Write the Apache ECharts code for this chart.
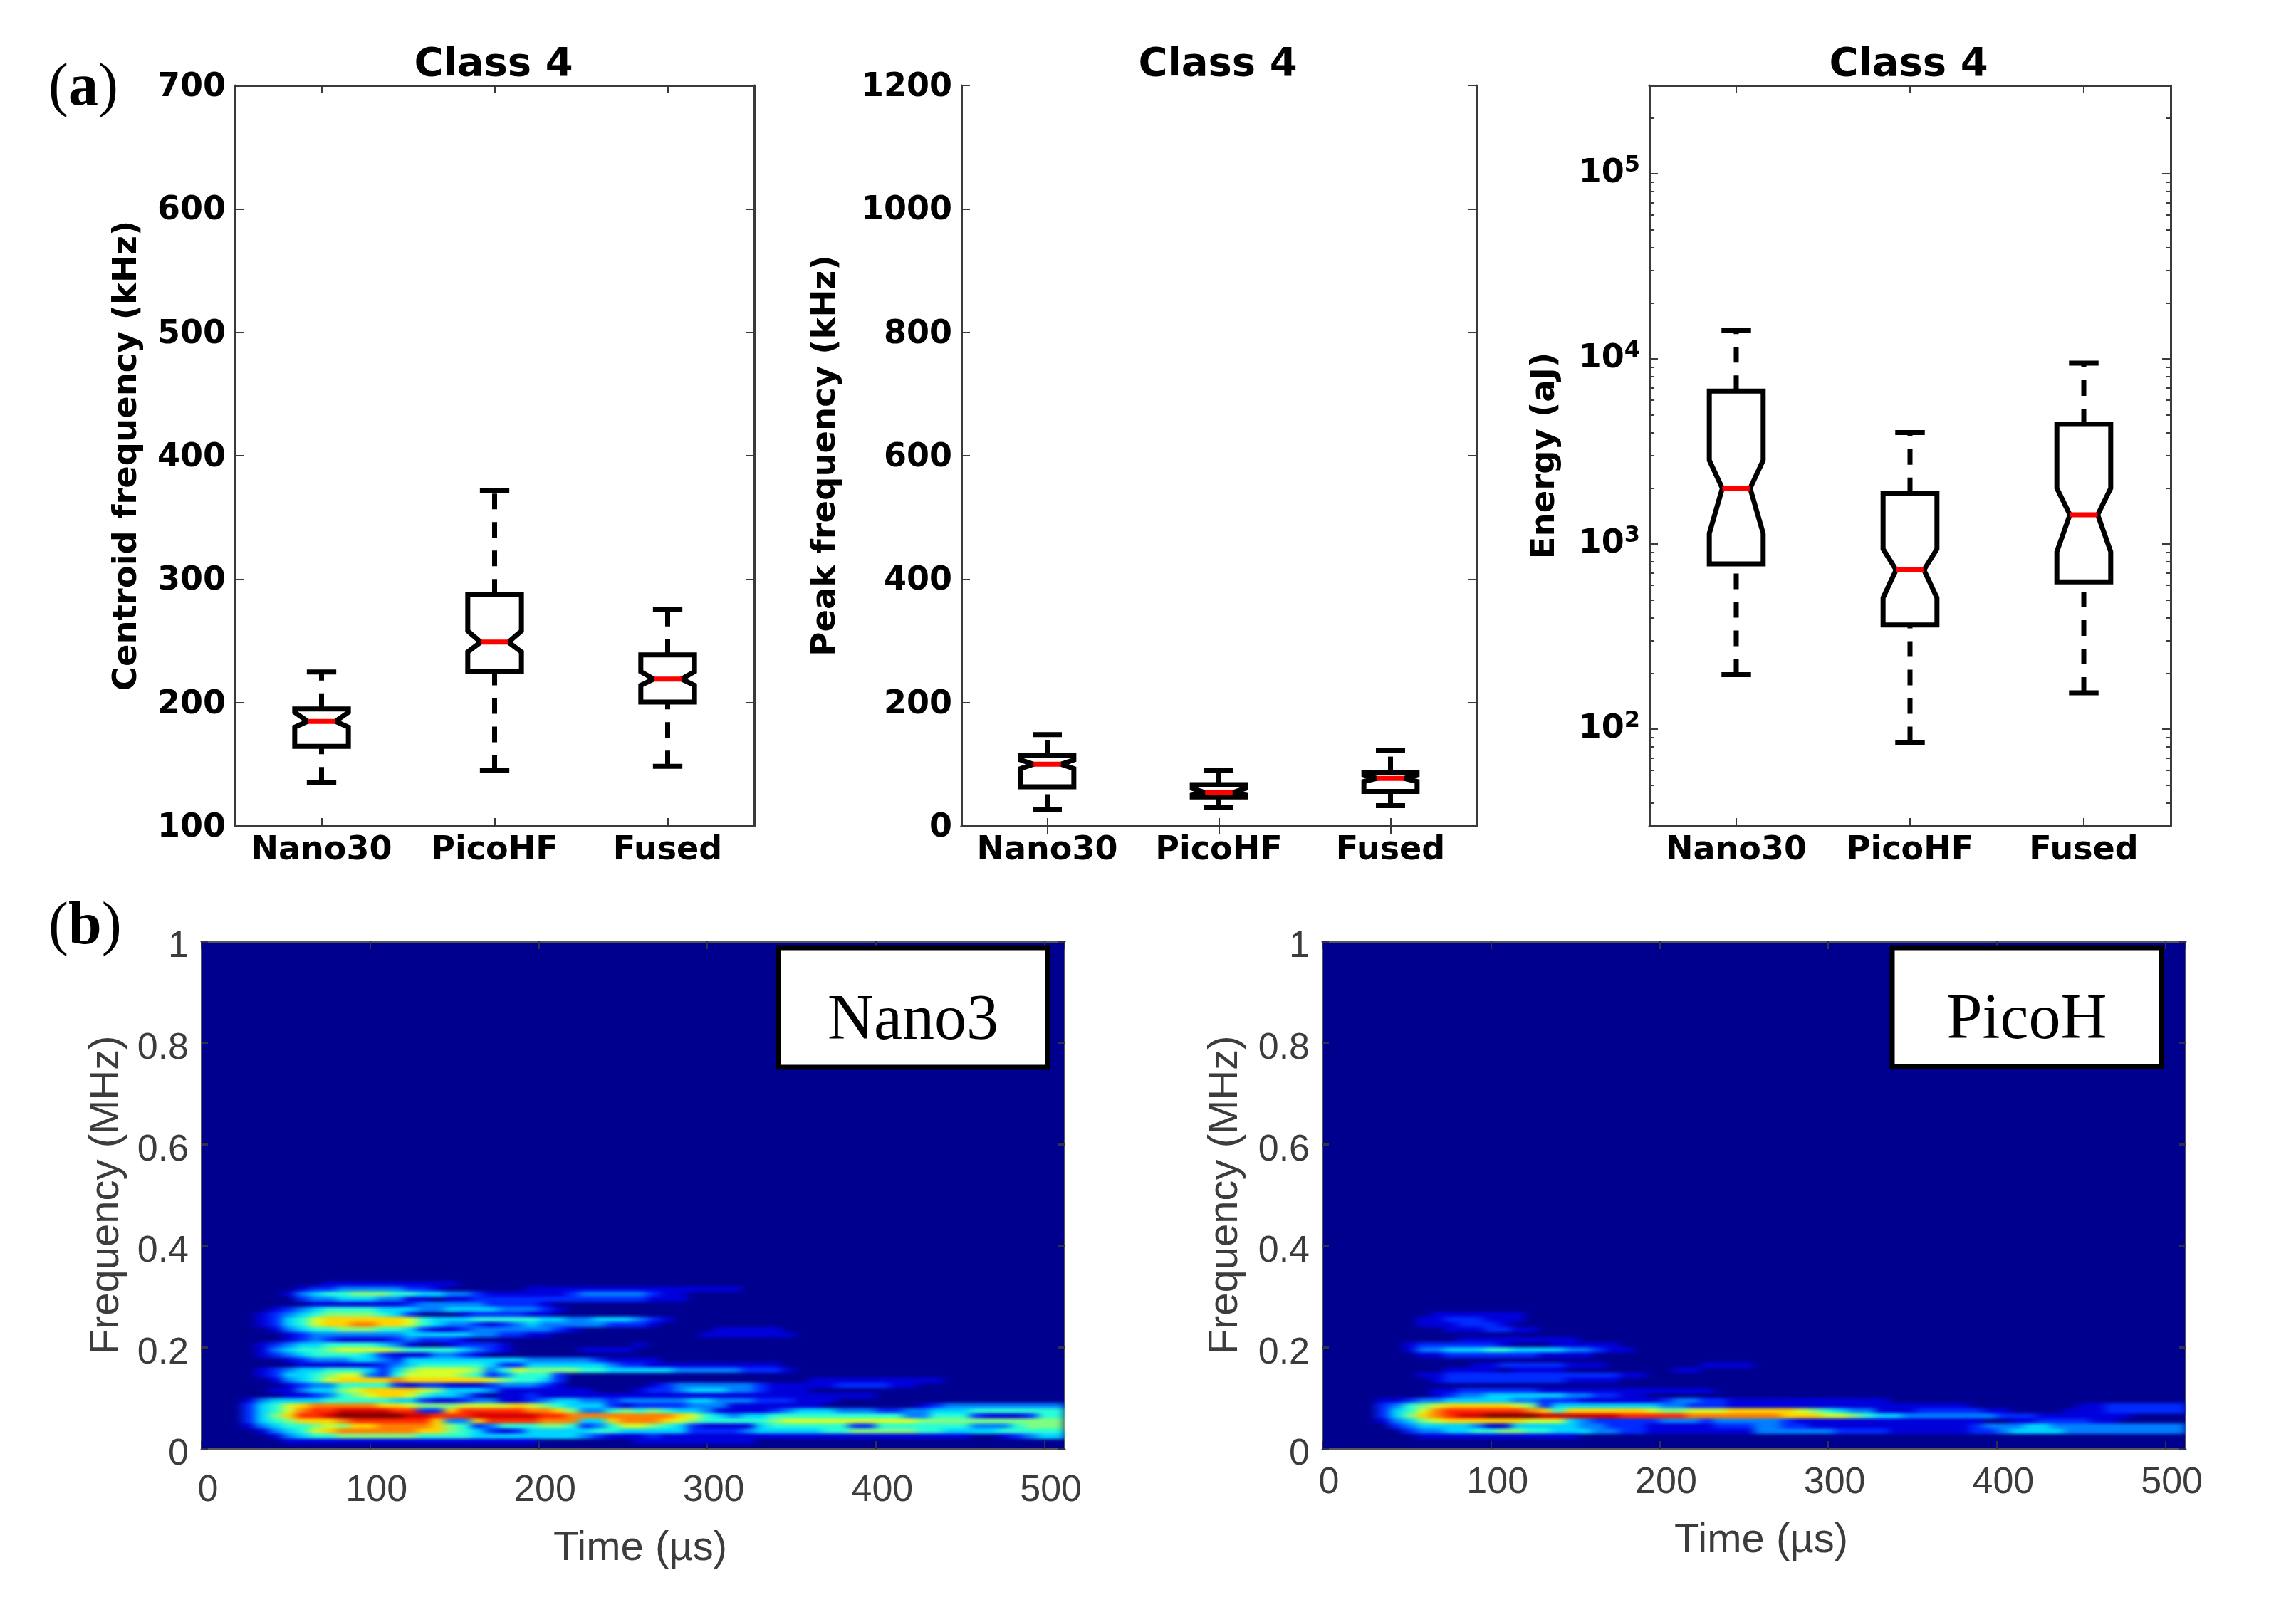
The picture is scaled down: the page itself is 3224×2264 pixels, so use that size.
<!DOCTYPE html>
<html><head><meta charset="utf-8">
<style>
html,body{margin:0;padding:0;background:#fff}
#c{width:3224px;height:2264px}
/* the spectrogram layer is softened the way the original raster is */
canvas[data-zr-dom-id="zr_1"]{filter:url(#soften);clip-path:path('M283 1322H1495V2035H283Z M1857 1322H3069V2035H1857Z')}
</style>
<script src="https://cdn.jsdelivr.net/npm/echarts@6/dist/echarts.min.js"></script>
</head><body>
<svg width="0" height="0" style="position:absolute"><filter id="soften" x="0" y="0" width="100%" height="100%" color-interpolation-filters="sRGB"><feGaussianBlur stdDeviation="7 2"/></filter></svg>
<div id="c"></div>
<script>
// ---------- Box-plot data: [whisker low, Q1, notch low, median, notch high, Q3, whisker high]
const sensors = ["Nano30", "PicoHF", "Fused"];
const centroidFrequency = [
  [135, 164.5, 180, 184.7, 192, 194.8, 224.8],
  [144.7, 225, 241, 249, 258, 287.4, 371.6],
  [148.3, 200.4, 214, 219, 225, 238.6, 275.4]
];
const peakFrequency = [
  [26, 63.5, 93, 100, 107, 114, 148],
  [30, 47, 50, 54, 61, 67, 90],
  [33, 56, 72, 77, 83, 87, 122]
];
const energy = [
  [197, 780, 1140, 2000, 2830, 6700, 14300],
  [85, 365, 513, 725, 940, 1880, 4000],
  [157, 624, 908, 1440, 2000, 4430, 9480]
];
const logMajorTicks = [100, 1000, 10000, 100000];
const logMinorTicks = [40,50,60,70,80,90,200,300,400,500,600,700,800,900,2000,3000,4000,5000,6000,7000,8000,9000,20000,30000,40000,50000,60000,70000,80000,90000,200000,300000];

// ---------- Spectrogram readings: one row per 0.01 MHz (first entry = 0.32-0.33 MHz),
// one character per 8 us, 0 (none) to c (strongest). [0-256 us, 256-512 us]; omitted tail = 0.
const nano30Spectrogram = [
 ["0000000001111111111",""],
 ["00000001223333322100000011111111","11111111"],
 ["00000013455666554433211111123333","3211"],
 ["00000002334443311011222222222222","2111"],
 ["00000000111111123333322221",""],
 ["000001234555544433444433321",""],
 ["00001234566665420001222211",""],
 ["00001245788888875444555554433444","321"],
 ["00001245788998875433212343333322","21"],
 ["0000013455666554211233333321","00000011111"],
 ["00000012333333344444332211","000001111111"],
 ["00000012321111232221",""],
 ["00001234455554310012221",""+"1"],
 ["00001345567777655554321000001111",""],
 ["000012345555421113321",""],
 ["00000012333443244444444433333211","11"],
 ["00000001111112345555542244444432","21111111111"],
 ["00001234455542467777635766665544","444333332221"],
 ["000012445677325777765235552",""],
 ["000001345788889888888765542","00000000000001111111111"],
 ["000000123355552122111233321","012333333211111222211"],
 ["00000113446788887644431111111000","1223444332111"],
 ["00000011235678875443101121111111","111111111111111111"],
 ["00013444455555442112331123443323","333344333222111"],
 ["00024578999998876667777876544421","22223331111111000000012333333333"],
 ["00024579aabbbbaa228aaaaa99863356","56544311112344433322334445555555"],
 ["0002468aabcccccbbaaabbbbbaa99999","99987543445555555555335552111255"],
 ["00024568889aaaaaa8338aaaa9994489","99876555556777777777766666666666"],
 ["00013455676889999865235556652357","76542111145555552255555553335666"],
 ["00001345789999998865421244444554","44442222344444556666655444455555"],
 ["00000134556666665555444444443211","12111111111111111111111110012344"],
 ["0000001111111111111111111","111111111"]
];
const picoHFSpectrogram = [
 ["",""], ["",""], ["",""], ["",""], ["",""], ["",""],
 ["000000001111111",""],
 ["000000011222111",""],
 ["00000001112221",""],
 ["0000000001112211",""],
 ["",""],
 ["0000000000111111111",""],
 ["0000001222222100011111",""],
 ["00000013344455444433211",""],
 ["00000001122222221111",""],
 ["",""],
 ["00000000000112222211100000001111",""],
 ["00000000011110111100000000110000",""],
 ["000000011222222222222211",""],
 ["0000000012222222221111",""],
 ["",""],
 ["00000000112222221111111111111",""],
 ["000000001233444444332211",""],
 ["00001123344444332221111112332211","1111111111"],
 ["00002356788888762444444443322211","11111111111111110000000011222222"],
 ["000024579aaaaaa98588888876677788","88876543311122222110000111222222"],
 ["000024689abbccccbbbbbbaaaaa99999","9988877654433333332221111111"],
 ["00001346788888877743222223332333","332111111111111110011222211"],
 ["00000234444311444443322211111222","33221111111111112333443333333333"],
 ["00000023344556655444332211111111","33333322221111112234444333333333"],
 ["0000000111111111111",""]
];
const TOP_ROW = 32;                 // row index of the first entry above
const freqBins = 100, timeBins = 64;

// ---------- Styles
const jet = ['#00008f','#0000ff','#0080ff','#00ffff','#80ff80','#ffff00','#ff8000','#ff0000','#800000'];
const SPINE = '#3a3a3a', BOLD = 'DejaVu Sans', SANS = 'Liberation Sans', SERIF = 'Liberation Serif';

const grids = [], xAxes = [], yAxes = [], series = [], titles = [];

function boxRender(params, api) {
  const i = api.value(0);
  const v = [1,2,3,4,5,6,7].map(k => api.value(k));
  const band = api.size([1, 0])[0];
  const half = band * 0.155, nh = band * 0.08, cap = band * 0.085;
  const p = y => api.coord([i, y]);
  const cx = p(v[3])[0], y = v.map(a => p(a)[1]);
  const sty = {stroke:'#000', lineWidth:7, fill:null, lineJoin:'miter'};
  const dash = {stroke:'#000', lineWidth:7, lineDash:[22,18], fill:null};
  const line = (x1,y1,x2,y2,s) => ({type:'line', shape:{x1,y1,x2,y2}, style:s});
  return {type:'group', children:[
    line(cx,y[0],cx,y[1],dash),
    line(cx,y[5],cx,y[6],dash),
    line(cx-cap,y[0],cx+cap,y[0],sty),
    line(cx-cap,y[6],cx+cap,y[6],sty),
    {type:'polygon', shape:{points:[
      [cx-half,y[1]],[cx+half,y[1]],[cx+half,y[2]],[cx+nh,y[3]],[cx+half,y[4]],[cx+half,y[5]],
      [cx-half,y[5]],[cx-half,y[4]],[cx-nh,y[3]],[cx-half,y[2]]]}, style:sty},
    line(cx-nh,y[3],cx+nh,y[3],{stroke:'#ff0000', lineWidth:7})
  ]};
}

function addBoxPanel(g, values, yCfg, name, nameGap, titleX) {
  const gi = grids.length;
  grids.push({left:g.l, top:g.t, width:g.w, height:g.h, show:false, containLabel:false});
  const xBase = {type:'category', data:sensors, gridIndex:gi, boundaryGap:true,
    axisLine:{show:true, lineStyle:{color:SPINE, width:3}},
    axisTick:{show:true, inside:true, alignWithLabel:true, length:11, lineStyle:{color:SPINE, width:2}}};
  const xIdx = xAxes.length;
  xAxes.push(Object.assign({}, xBase, {position:'bottom',
    axisLabel:{interval:0, margin:12, fontFamily:BOLD, fontWeight:'bold', fontSize:46, color:'#000'}}));
  xAxes.push(Object.assign({}, xBase, {position:'top', axisLabel:{show:false}}));
  const yBase = Object.assign({gridIndex:gi, splitLine:{show:false},
    axisLine:{show:true, lineStyle:{color:SPINE, width:3}},
    axisTick:{show:true, inside:true, length:12, lineStyle:{color:SPINE, width:2}}}, yCfg);
  const yIdx = yAxes.length;
  yAxes.push(Object.assign({}, yBase, {position:'left', name, nameLocation:'middle', nameGap, nameRotate:90,
    nameTextStyle:{fontFamily:BOLD, fontWeight:'bold', fontSize:46.5, color:'#000'},
    axisLabel:Object.assign({margin:13, formatter:v => '{a|' + v + '}',
      rich:{a:{fontFamily:BOLD, fontWeight:'bold', fontSize:46, color:'#000', padding:[6,0,0,0]}}}, yCfg.axisLabel||{})}));
  yAxes.push(Object.assign({}, yBase, {position:'right', axisLabel:{show:false}}));
  series.push({type:'custom', xAxisIndex:xIdx, yAxisIndex:yIdx, renderItem:boxRender, clip:false,
    encode:{x:0, y:[1,2,3,4,5,6,7]},
    data:values.map((v,i) => [i].concat(v))});
  titles.push({text:'Class 4', left:titleX, top:58, textAlign:'center',
    textStyle:{fontFamily:BOLD, fontWeight:'bold', fontSize:56, color:'#000'}});
  return yIdx;
}

function addHeatPanel(g, rows, labelMargin, nameGapX, nameGapY) {
  const gi = grids.length;
  grids.push({left:g.l, top:g.t, width:g.w, height:g.h, show:true, backgroundColor:'#00008f', borderWidth:0});
  const hx = xAxes.length, hy = yAxes.length;
  xAxes.push({type:'category', gridIndex:gi, show:false, data:Array.from({length:timeBins},(_,i)=>String(i))});
  yAxes.push({type:'category', gridIndex:gi, show:false, data:Array.from({length:freqBins},(_,i)=>String(i))});
  const cells = [];
  rows.forEach((row, k) => {
    const s = row[0].padEnd(32,'0') + row[1].padEnd(32,'0');
    for (let c = 0; c < timeBins; c++) {
      const val = parseInt(s[c], 16);
      if (val > 0) cells.push([c, TOP_ROW - k, val]);
    }
  });
  series.push({type:'heatmap', zlevel:1, xAxisIndex:hx, yAxisIndex:hy, data:cells, progressive:0, animation:false,
    itemStyle:{borderWidth:0}, emphasis:{disabled:true}});
  const tickCol = '#30304a';
  const xv = {type:'value', gridIndex:gi, min:0, max:512, interval:100, splitLine:{show:false},
    axisLine:{show:true, lineStyle:{color:'#555', width:3}},
    axisTick:{show:true, inside:true, length:11, lineStyle:{color:tickCol, width:2}}};
  xAxes.push(Object.assign({}, xv, {position:'bottom', name:'Time (µs)', nameLocation:'middle', nameGap:nameGapX,
    nameTextStyle:{fontFamily:SANS, fontSize:58, color:'#3c3c3c', padding:[0,0,0,20]},
    axisLabel:{margin:labelMargin, fontFamily:SANS, fontSize:52, color:'#3c3c3c', padding:[0,0,0,18], showMaxLabel:false,
      formatter:v => v % 100 === 0 ? String(v) : ''}}));
  xAxes.push(Object.assign({}, xv, {position:'top', axisLabel:{show:false}}));
  const yv = {type:'value', gridIndex:gi, min:0, max:1, interval:0.2, splitLine:{show:false},
    axisLine:{show:true, lineStyle:{color:'#555', width:2}},
    axisTick:{show:true, inside:true, length:9, lineStyle:{color:tickCol, width:3}}};
  yAxes.push(Object.assign({}, yv, {position:'left', name:'Frequency (MHz)', nameLocation:'middle', nameGap:nameGapY, nameRotate:90,
    nameTextStyle:{fontFamily:SANS, fontSize:58, color:'#3c3c3c'},
    axisLabel:{margin:18, formatter:v => '{a|' + v + '}',
      rich:{a:{fontFamily:SANS, fontSize:52, color:'#3c3c3c', padding:[16,0,0,0]}}}}));
  yAxes.push(Object.assign({}, yv, {position:'right', axisLabel:{show:false}}));
  return series.length - 1;
}

addBoxPanel({l:330,t:120,w:729,h:1040}, centroidFrequency,
  {type:'value', min:100, max:700, interval:100}, 'Centroid frequency (kHz)', 128, 688);
addBoxPanel({l:1350,t:120,w:723,h:1040}, peakFrequency,
  {type:'value', min:0, max:1200, interval:200}, 'Peak frequency (kHz)', 167, 1705);
const logFmt = v => ({100:'{b|10}{s|2}',1000:'{b|10}{s|3}',10000:'{b|10}{s|4}',100000:'{b|10}{s|5}'})[Math.round(v)] || '';
addBoxPanel({l:2316,t:120,w:732,h:1040}, energy,
  {type:'log', logBase:10, min:30, max:300000,
   axisLabel:{customValues:logMajorTicks, formatter:logFmt, rich:{
     b:{fontFamily:BOLD,fontWeight:'bold',fontSize:46,color:'#000'},
     s:{fontFamily:BOLD,fontWeight:'bold',fontSize:32,color:'#000',padding:[0,0,22,0]}}},
   axisTick:{show:true, inside:true, length:12, customValues:logMajorTicks, lineStyle:{color:SPINE,width:2}}},
  'Energy (aJ)', 123, 2675);
// minor log ticks, left and right
['left','right'].forEach(pos => {
  yAxes.push({type:'log', logBase:10, min:30, max:300000, gridIndex:2, position:pos, splitLine:{show:false},
    axisLine:{show:false}, axisLabel:{show:false},
    axisTick:{show:true, inside:true, length:6, customValues:logMinorTicks, lineStyle:{color:SPINE,width:2}}});
});

const h1 = addHeatPanel({l:283,t:1322,w:1212,h:713}, nano30Spectrogram, 33, 111, 104);
const h2 = addHeatPanel({l:1857,t:1322,w:1212,h:713}, picoHFSpectrogram, 22, 100, 107);

function boxLabel(x, y, w, h, text) {
  return [{type:'rect', z:50, shape:{x:x, y:y, width:w, height:h}, style:{fill:'#fff', stroke:'#000', lineWidth:7}},
    {type:'text', z:51, x:x+w/2, y:y+h/2+20, style:{text, fontFamily:SERIF, fontSize:90, fill:'#000', align:'center', verticalAlign:'middle'}}];
}
function panelTag(x, y, letter) {
  return {type:'text', z:51, x, y, style:{text:'{p|(}{l|'+letter+'}{p|)}', align:'left', verticalAlign:'middle',
    rich:{p:{fontFamily:SERIF,fontSize:84,fill:'#000'}, l:{fontFamily:SERIF,fontWeight:'bold',fontSize:84,fill:'#000'}}}};
}

const chart = echarts.init(document.getElementById('c'), null, {width:3224, height:2264, renderer:'canvas'});
chart.setOption({
  animation:false, backgroundColor:'#ffffff',
  title:titles, grid:grids, xAxis:xAxes, yAxis:yAxes, series,
  visualMap:{type:'continuous', show:false, seriesIndex:[h1,h2], min:0, max:12, inRange:{color:jet}},
  graphic:boxLabel(1093,1331,378,168,'Nano3').concat(boxLabel(2657,1331,378,167,'PicoH'),
    [panelTag(68,125,'a'), panelTag(68,1303,'b')])
});
</script></body></html>
